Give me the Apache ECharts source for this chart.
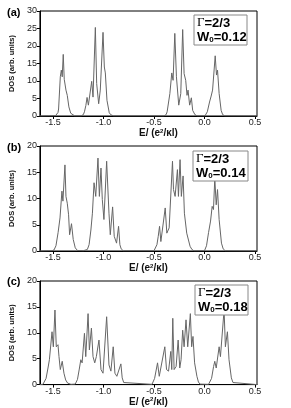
<!DOCTYPE html>
<html><head><meta charset="utf-8">
<script src="https://cdn.jsdelivr.net/npm/echarts@6/dist/echarts.min.js"></script>
<style>html,body{margin:0;padding:0;background:#fff}#c{width:291px;height:408px}</style>
</head><body><div id="c"></div>
<script>
// x tick labels
const xTicks = [-1.5, -1.0, -0.5, 0.0, 0.5];
const panelLabels = ['(a)', '(b)', '(c)'];
const gammaLabels = ['Γ=2/3', 'Γ=2/3', 'Γ=2/3'];
const w0Labels = ['0.12', '0.14', '0.18'];
const yMax = [30, 20, 20];

// Panel (a) W0=0.12  [E, DOS]
const dosA = [
 [-1.63,0],[-1.545,0.05],[-1.527,0.4],[-1.51,0.05],[-1.475,0.1],[-1.46,0.5],[-1.451,1.0],[-1.445,2.0],
 [-1.428,11.2],[-1.418,13.1],[-1.409,11.2],[-1.399,17.6],[-1.389,10.5],[-1.382,10.7],[-1.372,7.4],
 [-1.359,5.9],[-1.343,2.6],[-1.325,0.8],[-1.313,0.3],[-1.287,0.05],[-1.22,0.05],[-1.2,0.4],[-1.189,1.2],
 [-1.175,3.0],[-1.163,5.3],[-1.15,3.1],[-1.117,9.9],[-1.104,5.4],[-1.081,25.3],[-1.068,9.3],[-1.048,3.5],
 [-1.032,7.4],[-1.005,23.9],[-0.992,14.0],[-0.982,12.3],[-0.966,4.5],[-0.943,0.9],[-0.925,0.3],[-0.9,0.05],
 [-0.4,0.05],[-0.38,0.4],[-0.37,1.2],[-0.343,6.4],[-0.324,12.3],[-0.311,10.2],[-0.294,23.6],[-0.278,11.2],
 [-0.255,3.1],[-0.235,6.4],[-0.216,24.7],[-0.202,12.1],[-0.186,10.2],[-0.173,5.9],[-0.163,7.4],[-0.147,3.1],
 [-0.13,5.2],[-0.117,1.6],[-0.095,0.4],[-0.075,0.05],[0.005,0.05],[0.018,0.4],[0.028,1.2],[0.05,4.0],
 [0.066,5.7],[0.08,7.4],[0.106,17.2],[0.119,11.7],[0.129,13.1],[0.145,6.4],[0.165,1.6],[0.18,0.4],
 [0.2,0.05],[0.52,0]
];
// Panel (b) W0=0.14
const dosB = [
 [-1.63,0],[-1.545,0.05],[-1.527,0.3],[-1.51,0.05],[-1.49,0.2],[-1.471,1.0],[-1.45,3.5],[-1.431,6.3],
 [-1.412,11.4],[-1.402,9.5],[-1.382,16.4],[-1.372,10.4],[-1.359,9.1],[-1.346,6.9],[-1.336,3.1],
 [-1.317,5.2],[-1.3,2.2],[-1.28,0.6],[-1.258,0.1],[-1.2,0.05],[-1.16,0.3],[-1.143,1.2],[-1.125,4.0],
 [-1.11,7.2],[-1.094,13.0],[-1.077,10.4],[-1.055,17.7],[-1.041,10.4],[-1.025,15.8],[-1.012,9.8],
 [-0.996,6.0],[-0.969,17.1],[-0.946,7.2],[-0.933,3.1],[-0.91,8.4],[-0.894,2.8],[-0.871,1.5],[-0.851,4.7],
 [-0.838,1.2],[-0.825,0.4],[-0.805,0.05],[-0.5,0.05],[-0.485,0.3],[-0.471,1.2],[-0.458,2.8],[-0.445,4.7],
 [-0.432,1.8],[-0.415,1.5],[-0.389,8.2],[-0.373,3.4],[-0.35,4.4],[-0.317,17.1],[-0.307,11.7],[-0.291,10.4],
 [-0.268,15.5],[-0.258,10.4],[-0.242,17.4],[-0.229,10.4],[-0.212,14.3],[-0.199,7.2],[-0.176,3.4],
 [-0.143,0.9],[-0.125,0.3],[-0.105,0.05],[0.0,0.05],[0.012,0.4],[0.02,1.0],[0.04,3.5],[0.06,5.7],
 [0.076,8.5],[0.089,7.9],[0.102,13.8],[0.116,8.8],[0.129,11.7],[0.145,6.0],[0.168,1.5],[0.185,0.4],
 [0.205,0.05],[0.52,0]
];
// Panel (c) W0=0.18
const dosC = [
 [-1.63,0],[-1.6,0.05],[-1.585,0.3],[-1.569,1.2],[-1.55,3.2],[-1.536,4.8],[-1.527,5.1],[-1.51,10.2],
 [-1.497,7.3],[-1.481,14.4],[-1.468,7.3],[-1.451,7.7],[-1.441,5.4],[-1.428,2.9],[-1.409,4.5],[-1.392,2.2],
 [-1.375,0.9],[-1.356,0.3],[-1.323,0.05],[-1.28,0.1],[-1.265,0.4],[-1.258,1.0],[-1.24,3.0],[-1.225,4.8],
 [-1.212,4.2],[-1.189,9.9],[-1.176,5.4],[-1.153,13.7],[-1.14,6.7],[-1.12,10.9],[-1.104,5.4],[-1.087,4.2],
 [-1.071,5.4],[-1.045,8.6],[-1.025,2.9],[-1.005,2.2],[-0.969,13.1],[-0.946,3.8],[-0.927,2.6],[-0.904,7.3],
 [-0.887,2.2],[-0.868,1.6],[-0.828,4.0],[-0.815,1.3],[-0.8,0.4],[-0.783,0.05],[-0.52,0.05],[-0.505,0.4],
 [-0.494,1.2],[-0.465,4.2],[-0.448,1.6],[-0.429,1.9],[-0.393,7.3],[-0.376,2.9],[-0.356,2.6],[-0.334,6.4],
 [-0.324,2.9],[-0.314,12.8],[-0.301,2.9],[-0.281,3.5],[-0.261,8.6],[-0.245,3.2],[-0.232,4.8],[-0.216,10.5],
 [-0.202,7.3],[-0.183,12.5],[-0.166,7.3],[-0.14,13.7],[-0.127,7.3],[-0.114,9.3],[-0.098,4.2],[-0.075,1.6],
 [-0.06,0.5],[-0.045,0.1],[0.04,0.05],[0.058,0.4],[0.07,1.2],[0.09,3.5],[0.102,4.5],[0.116,3.2],[0.145,7.3],
 [0.158,5.4],[0.194,14.4],[0.207,7.3],[0.227,10.2],[0.243,4.8],[0.266,1.3],[0.282,0.4],[0.299,0.05],[0.52,0]
];

const seriesData = [dosA, dosB, dosC];
const gridTops = [11, 146, 281];
const gridH = [105, 105, 104];
const boxes = [[194,15,53,30],[193,151,55,30],[195,285,53,30]];
const labelY = [13, 147.5, 282];

const font = 'Liberation Sans, Arial, Helvetica, sans-serif';
const grids = [], xAxes = [], yAxes = [], series = [], graphics = [];
for (let i = 0; i < 3; i++) {
  grids.push({left: 38, width: 219, top: gridTops[i], height: gridH[i], show: true,
    borderColor: '#000', borderWidth: 1, backgroundColor: 'transparent'});
  xAxes.push({type: 'value', gridIndex: i, min: -1.63, max: 0.52,
    axisLine: {show: true, onZero: false, lineStyle: {color: '#000', width: 1}},
    axisTick: {show: true, customValues: xTicks, length: 3, lineStyle: {color: '#000'}},
    axisLabel: {show: true, customValues: xTicks, margin: 2, fontSize: 9, color: '#222', fontFamily: font,
      formatter: v => v.toFixed(1)},
    splitLine: {show: false},
    name: '{t|E/ (e}{s|2}{t|/κl)}', nameLocation: 'middle', nameGap: 9,
    nameTextStyle: {padding: i === 0 ? [0,0,0,20] : 0, rich: {
      t: {fontSize: 10, fontWeight: 'bold', fontFamily: font, color: '#111'},
      s: {fontSize: 6, fontWeight: 'bold', fontFamily: font, color: '#111', verticalAlign: 'top', padding: [0,0,5,0]}}}
  });
  yAxes.push({type: 'value', gridIndex: i, min: 0, max: yMax[i], interval: 5,
    axisLine: {show: true, onZero: false, lineStyle: {color: '#000', width: 1}},
    axisTick: {show: true, length: 3, lineStyle: {color: '#000'}},
    axisLabel: {fontSize: 9, color: '#222', margin: 3, fontFamily: font},
    splitLine: {show: false},
    name: 'DOS (arb. units)', nameLocation: 'middle', nameGap: 23,
    nameTextStyle: {fontSize: 7.5, fontWeight: 'bold', fontFamily: font, color: '#111'}
  });
  series.push({type: 'line', xAxisIndex: i, yAxisIndex: i, data: seriesData[i], showSymbol: false,
    symbol: 'none', lineStyle: {color: '#666', width: 1}, z: 2, animation: false});
  const b = boxes[i];
  graphics.push({type: 'rect', shape: {x: b[0], y: b[1], width: b[2], height: b[3]},
    style: {fill: '#fff', stroke: '#888', lineWidth: 1}, z: 10});
  graphics.push({type: 'text', x: b[0] + 3, y: b[1] + 8, z: 11,
    style: {text: '{g|Γ}{t|' + gammaLabels[i].slice(1) + '}', verticalAlign: 'middle', rich: {
      g: {fontSize: 13, fontFamily: 'Liberation Serif, serif', color: '#000'},
      t: {fontSize: 13, fontWeight: 'bold', fontFamily: font, color: '#000'}}}});
  graphics.push({type: 'text', x: b[0] + 3, y: b[1] + 22, z: 11,
    style: {text: '{t|W}{s|0}{t|=' + w0Labels[i] + '}', verticalAlign: 'middle', rich: {
      t: {fontSize: 13, fontWeight: 'bold', fontFamily: font, color: '#000'},
      s: {fontSize: 8, fontWeight: 'bold', fontFamily: font, color: '#000', verticalAlign: 'bottom', padding: [6,0,0,0]}}}});
  graphics.push({type: 'text', x: 7, y: labelY[i], z: 11,
    style: {text: panelLabels[i], verticalAlign: 'middle', fontSize: 11, fontWeight: 'bold', fontFamily: font, fill: '#000'}});
}

const chart = echarts.init(document.getElementById('c'), null, {renderer: 'canvas'});
chart.setOption({animation: false, backgroundColor: '#fff', grid: grids, xAxis: xAxes, yAxis: yAxes,
  series: series, graphic: graphics});
</script></body></html>
